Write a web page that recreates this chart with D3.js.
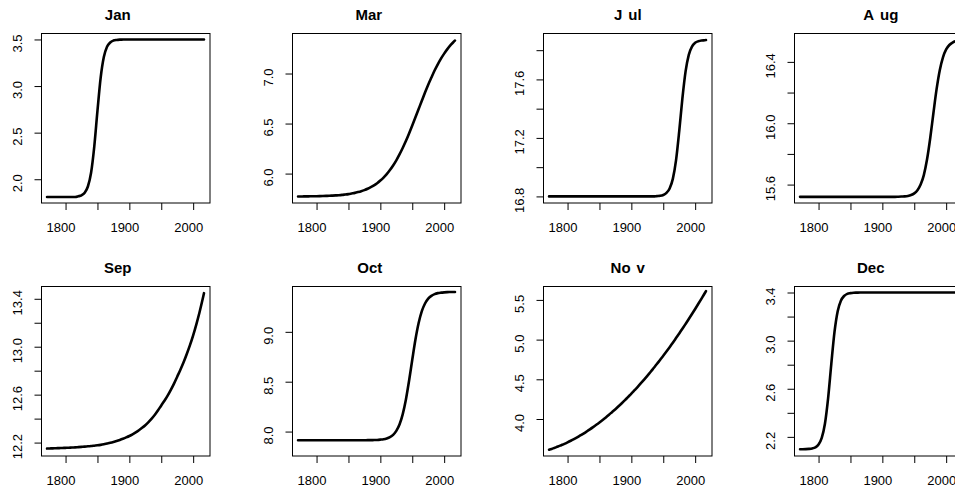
<!DOCTYPE html>
<html><head><meta charset="utf-8">
<script src="https://cdn.jsdelivr.net/npm/d3@7"></script>
<style>html,body{margin:0;padding:0;background:#fff;overflow:hidden}</style>
</head><body><svg id="chart" width="955" height="492"></svg>
<script>
// ---------- data ----------
const years = [1771,1775,1780,1785,1790,1795,1800,1805,1810,1815,1820,1825,1830,1835,1840,1845,1850,1855,1860,1865,1870,1875,1880,1885,1890,1895,1900,1905,1910,1915,1920,1925,1930,1935,1940,1945,1950,1955,1960,1965,1970,1975,1980,1985,1990,1995,2000,2005,2010,2015,2017];

const jan = [1.810,1.810,1.810,1.810,1.810,1.810,1.810,1.810,1.810,1.810,
  1.817,1.828,1.856,1.922,2.070,2.351,2.734,3.088,3.311,3.421,3.468,3.488,3.495,3.498,
  3.499,3.500,3.500,3.500,3.500,3.500,3.500,3.500,3.500,3.500,3.500,3.500,3.500,3.500,3.500,3.500,3.500,3.500,3.500,3.500,3.500,3.500,3.500,3.500,3.500,3.500,3.500];

const mar = [5.771,5.771,5.772,5.772,5.773,5.773,5.774,5.775,5.776,5.777,
  5.778,5.780,5.782,5.784,5.787,5.791,5.795,5.801,5.807,5.815,
  5.824,5.835,5.848,5.864,5.882,5.904,5.930,5.960,5.995,6.035,
  6.081,6.133,6.192,6.256,6.325,6.401,6.481,6.562,6.645,6.728,
  6.810,6.888,6.960,7.030,7.092,7.149,7.199,7.244,7.283,7.318,7.329];

const jul = [16.800,16.800,16.800,16.800,16.800,16.800,16.800,16.800,16.800,16.800,
  16.800,16.800,16.800,16.800,16.800,16.800,16.800,16.800,16.800,16.800,
  16.800,16.800,16.800,16.800,16.800,16.800,16.800,16.800,16.800,16.800,
  16.800,16.800,16.800,16.800,
  16.802,16.804,16.810,16.824,16.854,16.920,17.046,17.244,17.470,17.655,17.768,17.824,17.850,17.861,17.866,17.868,17.869];

const aug = [15.520,15.520,15.520,15.520,15.520,15.520,15.520,15.520,15.520,15.520,
  15.520,15.520,15.520,15.520,15.520,15.520,15.520,15.520,15.520,15.520,
  15.520,15.520,15.520,15.520,15.520,15.520,15.520,15.520,15.520,15.520,15.520,
  15.521,15.522,15.523,15.526,15.532,15.543,15.563,15.600,15.662,15.763,15.902,16.065,16.222,16.346,16.430,16.481,16.510,16.526,16.535,16.537];

const sep = [12.150,12.151,12.152,12.153,12.154,12.155,12.156,12.157,12.159,12.160,
  12.162,12.164,12.166,12.169,12.171,12.174,12.177,12.181,12.186,12.192,
  12.198,12.205,12.213,12.222,12.232,12.243,12.255,12.269,12.285,12.303,
  12.323,12.345,12.371,12.400,12.432,12.469,12.510,12.549,12.592,12.640,
  12.692,12.750,12.808,12.870,12.939,13.013,13.095,13.187,13.288,13.400,13.447];

const oct = [7.913,7.913,7.913,7.913,7.913,7.913,7.913,7.913,7.913,7.913,
  7.913,7.913,7.913,7.913,7.913,7.913,7.913,7.913,7.913,7.913,7.913,7.913,
  7.914,7.914,7.915,7.916,7.919,7.923,7.931,7.944,7.967,8.007,8.071,8.173,8.320,8.509,
  8.720,8.923,9.088,9.207,9.284,9.333,9.361,9.378,9.388,9.393,9.396,9.398,9.399,9.400,9.400];

const nov = [3.613,3.623,3.638,3.653,3.670,3.687,3.706,3.726,3.747,3.769,
  3.793,3.817,3.843,3.870,3.898,3.927,3.957,3.988,4.020,4.054,
  4.089,4.124,4.161,4.199,4.238,4.279,4.320,4.363,4.406,4.451,
  4.497,4.544,4.592,4.642,4.692,4.744,4.796,4.850,4.905,4.961,
  5.019,5.077,5.136,5.197,5.259,5.322,5.386,5.451,5.517,5.584,5.612];

const dec = [2.097,2.097,2.098,2.100,2.104,2.113,2.137,2.192,2.309,2.522,
  2.807,3.073,3.245,3.332,3.371,3.389,3.395,3.398,3.399,
  3.400,3.400,3.400,3.400,3.400,3.400,3.400,3.400,3.400,3.400,3.400,
  3.400,3.400,3.400,3.400,3.400,3.400,3.400,3.400,3.400,3.400,
  3.400,3.400,3.400,3.400,3.400,3.400,3.400,3.400,3.400,3.400,3.400];

const months = ["Jan","Mar","Jul","Aug","Sep","Oct","Nov","Dec"];
const seriesList = [jan, mar, jul, aug, sep, oct, nov, dec];

const xLimits = [1762.3, 2026.4];
const yLimits = [[1.745,3.564],[5.706,7.40],[16.755,17.914],[15.48,16.585],
                 [12.088,13.5025],[7.755,9.4545],[3.534,5.669],[2.041,3.45]];

const xTickValues = [1800,1850,1900,1950,2000];
const xTickLabels = [1800,1900,2000];

const yTickValues = [
  [2.0,2.5,3.0,3.5],
  [6.0,6.5,7.0],
  [16.8,17.0,17.2,17.4,17.6,17.8],
  [15.6,15.8,16.0,16.2,16.4],
  [12.2,12.4,12.6,12.8,13.0,13.2,13.4],
  [8.0,8.5,9.0],
  [4.0,4.5,5.0,5.5],
  [2.2,2.4,2.6,2.8,3.0,3.2,3.4]
];
const yTickLabels = [
  [2.0,2.5,3.0,3.5],
  [6.0,6.5,7.0],
  [16.8,17.2,17.6],
  [15.6,16.0,16.4],
  [12.2,12.6,13.0,13.4],
  [8.0,8.5,9.0],
  [4.0,4.5,5.0,5.5],
  [2.2,2.6,3.0,3.4]
];

// ---------- layout ----------
const FONT = "'Liberation Sans', Arial, Helvetica, sans-serif";
const colLeft = [41, 292, 543, 794];
const rowTop = [33, 286];
const W = 168.5, H = 169.5;
const titleShift = [-8, -8, 0, 2, -8, -7, 0, -8];
const titleGapAfter = [0, 0, 1, 1, 0, 0, 2, 0];

const svg = d3.select("#chart");
svg.append("rect").attr("width", 955).attr("height", 492).attr("fill", "#fff");

const has = (arr, v) => arr.some(a => Math.abs(a - v) < 1e-9);

seriesList.forEach((vals, i) => {
  const col = i % 4, row = Math.floor(i / 4);
  const g = svg.append("g").attr("transform", `translate(${colLeft[col] + 0.5},${rowTop[row] + 0.5})`);
  const x = d3.scaleLinear().domain(xLimits).range([0, W]);
  const y = d3.scaleLinear().domain(yLimits[i]).range([H, 0]);

  // x axis
  const xa = g.append("g").attr("transform", `translate(0,${H})`)
    .call(d3.axisBottom(x).tickValues(xTickValues).tickSize(7).tickPadding(0)
      .tickFormat(d => has(xTickLabels, d) ? String(d) : ""));
  xa.select(".domain").remove();
  xa.selectAll("line").attr("stroke", "#000").attr("stroke-width", 1);
  xa.selectAll("text").attr("y", 29).attr("dy", 0).attr("dx", -5)
    .attr("fill", "#000").style("font-family", FONT).style("font-size", "13px");

  // y axis
  const ya = g.append("g")
    .call(d3.axisLeft(y).tickValues(yTickValues[i]).tickSize(7).tickPadding(0)
      .tickFormat(d => has(yTickLabels[i], d) ? d.toFixed(1) : ""));
  ya.select(".domain").remove();
  ya.selectAll("line").attr("stroke", "#000").attr("stroke-width", 1);
  ya.selectAll("text").attr("transform", "rotate(-90)")
    .attr("x", -3.5).attr("y", -19.5).attr("dy", 0).attr("dx", 0)
    .attr("text-anchor", "middle")
    .attr("fill", "#000").style("font-family", FONT).style("font-size", "13px");

  // curve
  const line = d3.line().x((d, k) => x(years[k])).y(d => y(d)).curve(d3.curveMonotoneX);
  g.append("path").datum(vals).attr("d", line)
    .attr("fill", "none").attr("stroke", "#000").attr("stroke-width", 2.6)
    .attr("stroke-linejoin", "round").attr("stroke-linecap", "round");

  // box
  g.append("rect").attr("x", 0).attr("y", 0).attr("width", W).attr("height", H)
    .attr("fill", "none").attr("stroke", "#000").attr("stroke-width", 1);

  // title
  const name = months[i];
  const t = g.append("text").attr("x", W / 2 + titleShift[i]).attr("y", -14)
    .attr("text-anchor", "middle").style("font-family", FONT)
    .style("font-size", "15px").style("font-weight", "bold").attr("fill", "#000");
  const cut = titleGapAfter[i];
  if (cut > 0) {
    t.append("tspan").text(name.slice(0, cut));
    t.append("tspan").attr("dx", 6).text(name.slice(cut));
  } else {
    t.text(name);
  }
});
</script>
</body></html>
